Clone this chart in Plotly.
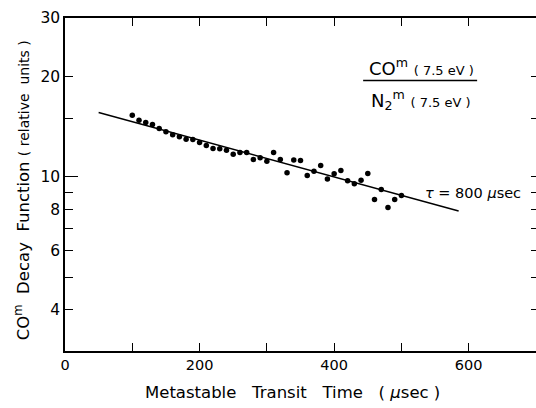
import plotly.graph_objects as go

# Data
transit_time = [100, 110, 120, 130, 140, 150, 160, 170, 180, 190,
                200, 210, 220, 230, 240, 250, 260, 270, 280, 290,
                300, 310, 320, 330, 340, 350, 360, 370, 380, 390,
                400, 410, 420, 430, 440, 450, 460, 470, 480, 490, 500]
decay = [15.3, 14.8, 14.57, 14.37, 13.98, 13.66, 13.38, 13.19, 12.98, 12.95,
         12.69, 12.43, 12.17, 12.14, 12.03, 11.70, 11.84, 11.84, 11.28, 11.41,
         11.15, 11.84, 11.28, 10.29, 11.23, 11.20, 10.10, 10.40, 10.82, 9.86,
         10.21, 10.45, 9.73, 9.53, 9.77, 10.24, 8.55, 9.17, 8.09, 8.55, 8.79]
fit_time = [50, 585]
fit_decay = [15.6, 7.9]

x_tickvals = [0, 200, 400, 600]
x_ticktext = ["0", "200", "400", "600"]
x_minor = [100, 300, 500]
y_tickvals = [4, 6, 8, 10, 20, 30]
y_ticktext = ["4", "6", "8", "10", "20", "30"]
y_minor = [3, 5, 7, 9, 15]
y_long_tick = [10]
y_right_ticks = [4, 5, 6, 7, 8, 9, 10, 15, 20]

FONT = "DejaVu Sans"

fig = go.Figure()
fig.add_trace(go.Scatter(x=fit_time, y=fit_decay, mode="lines",
                         line=dict(color="black", width=1.5), showlegend=False))
fig.add_trace(go.Scatter(x=transit_time, y=decay, mode="markers",
                         marker=dict(color="black", size=5.5), showlegend=False))
# invisible traces for extra tick marks (right side, long tick at 10)
fig.add_trace(go.Scatter(x=[None], y=[None], yaxis="y2", showlegend=False))
fig.add_trace(go.Scatter(x=[None], y=[None], yaxis="y3", showlegend=False))

fig.update_layout(
    width=536, height=408,
    margin=dict(l=65, r=0, t=18, b=57),
    paper_bgcolor="white", plot_bgcolor="white",
    font=dict(family=FONT, color="black", size=14),
    xaxis=dict(range=[0, 700], tickvals=x_tickvals, ticktext=x_ticktext,
               ticks="inside", ticklen=8, tickwidth=1.2, tickcolor="black",
               minor=dict(tickvals=x_minor, ticks="inside", ticklen=8,
                          tickcolor="black", tickwidth=1.2, showgrid=False),
               showline=True, linecolor="black", linewidth=1.5, mirror="ticks",
               showgrid=False, zeroline=False, tickfont=dict(size=14.5)),
    yaxis=dict(type="log", range=[0.4771, 1.4771], tickvals=y_tickvals,
               ticktext=y_ticktext, ticks="inside", ticklen=8, tickwidth=1.2,
               tickcolor="black", showline=True, linecolor="black", linewidth=1.5,
               minor=dict(tickvals=y_minor, ticks="inside", ticklen=8,
                          tickcolor="black", tickwidth=1.2, showgrid=False),
               showgrid=False, zeroline=False, tickfont=dict(size=15.5)),
    yaxis2=dict(type="log", range=[0.4771, 1.4771], overlaying="y", side="right",
                tickvals=y_right_ticks, ticks="inside", ticklen=5,
                tickcolor="black", showticklabels=False, showline=False,
                showgrid=False, zeroline=False),
    yaxis3=dict(type="log", range=[0.4771, 1.4771], overlaying="y", side="left",
                tickvals=y_long_tick, ticks="inside", ticklen=13, tickwidth=1.2,
                tickcolor="black", showticklabels=False, showline=False,
                showgrid=False, zeroline=False),
)

common = dict(xref="paper", yref="paper", showarrow=False,
              xanchor="center", yanchor="middle")
annotations = [
    dict(text="CO<sup>m</sup>  Decay  Function <span style='font-size:14px'>( relative  units )</span>",
         x=-0.0913, y=0.483, textangle=-90, font=dict(size=16.5), **common),
    dict(text="Metastable   Transit   Time   ( <i>μ</i>sec )",
         x=0.484, y=-0.126, font=dict(size=16.5), **common),
    dict(text="CO<sup>m</sup> <span style='font-size:13px'>( 7.5 eV )</span>",
         x=0.756, y=0.853, font=dict(size=18), **common),
    dict(text="N<sub>2</sub><sup>m</sup> <span style='font-size:13px'>( 7.5 eV )</span>",
         x=0.756, y=0.754, font=dict(size=18), **common),
    dict(text="<i>τ</i> = 800 <i>μ</i>sec",
         x=0.866, y=0.474, font=dict(size=14.5), **common),
]
fig.update_layout(annotations=annotations)
fig.add_shape(type="line", xref="paper", yref="paper", x0=0.633, x1=0.875,
              y0=0.812, y1=0.812, line=dict(color="black", width=1.5))

fig.write_html("out.html", config={"displayModeBar": False},
               post_script="document.body.style.margin='0';document.body.style.overflow='hidden';")
